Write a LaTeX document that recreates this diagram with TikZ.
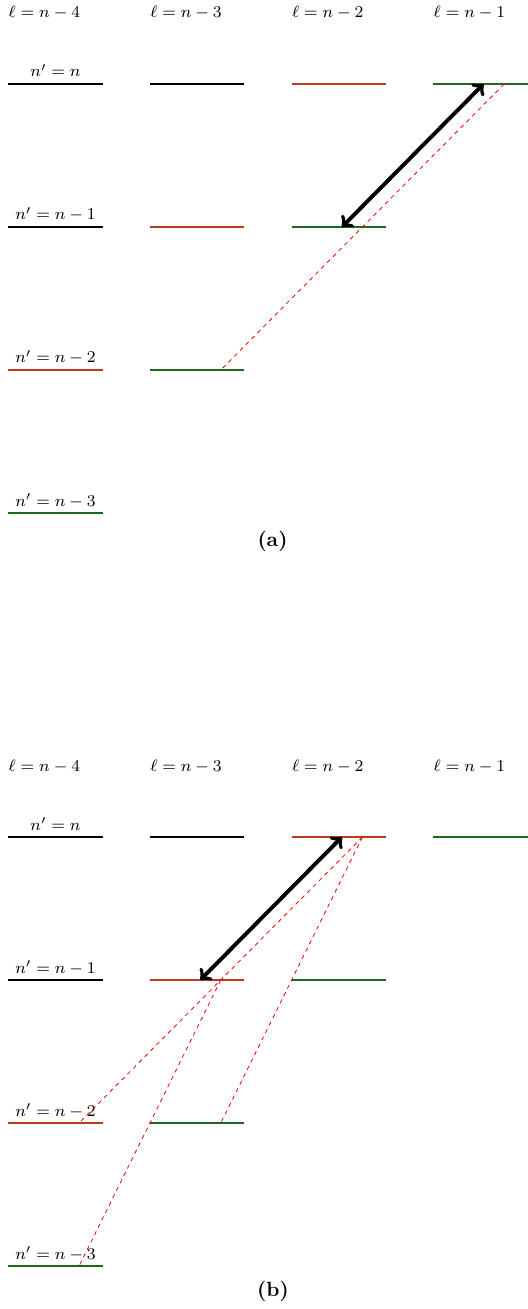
\documentclass[tikz,border=0pt]{standalone}
\usepackage{tikz}
\definecolor{lvred}{RGB}{190,58,30}
\definecolor{lvgreen}{RGB}{30,105,30}
\tikzset{
  lvl/.style={line width=0.85pt},
  trans/.style={red, line width=0.4pt, dash pattern=on 2pt off 2pt},
  dip/.style={<->, line width=1.9pt, black},
  lab/.style={inner sep=0pt}
}
\begin{document}
\begin{tikzpicture}[x=0.485pt,y=-0.485pt,font=\footnotesize]
\useasboundingbox (0,0) rectangle (528,1309);
\foreach \p/\dy in {a/0,b/753}{
  \foreach \r in {1,...,4}{
    \foreach \c in {1,...,4}{
      \pgfmathtruncatemacro\s{\r+\c}
      \ifnum\s<6
        \pgfmathsetmacro\xl{8.3+141.67*(\c-1)}
        \pgfmathsetmacro\yy{84+143*(\r-1)+\dy}
        \coordinate (\p\r\c L) at (\xl,\yy);
        \coordinate (\p\r\c R) at (\xl+94.4,\yy);
        \coordinate (\p\r\c C) at (\xl+47.2,\yy);
        \coordinate (\p\r\c Q) at (\xl+70.8,\yy);
        \ifnum\s=5 \def\lc{lvgreen}\else\ifnum\s=4 \def\lc{lvred}\else\def\lc{black}\fi\fi
        \draw[lvl,\lc] (\p\r\c L) -- (\p\r\c R);
      \fi
    }
  }
  % column labels
  \foreach \c/\t in {1/4,2/3,3/2,4/1}{
    \pgfmathsetmacro\xl{8.3+141.67*(\c-1)}
    \node[lab,anchor=base west] (\p l\c) at (\xl,18+\dy) {$\ell = n-\t$};
  }
  % row labels
  \node[lab,anchor=base] (\p n1) at (55.5,77+\dy) {$n' = n$};
  \node[lab,anchor=base] (\p n2) at (55.5,220+\dy) {$n' = n-1$};
  \node[lab,anchor=base] (\p n3) at (55.5,363+\dy) {$n' = n-2$};
  \node[lab,anchor=base] (\p n4) at (55.5,506+\dy) {$n' = n-3$};
}
% panel (a)
\draw[trans] (a14Q) -- (a32Q);
\draw[dip] ([xshift=1.5pt]a23C) -- ([xshift=1.5pt]a14C);
\node[lab,anchor=base] (capa) at (272.5,546.5) {\normalsize\bfseries (a)};
% panel (b)
\draw[trans] (b13Q) -- (b31Q);
\draw[trans] (b22Q) -- (b41Q);
\draw[trans] (b13Q) -- (b32Q);
\draw[dip] ([xshift=1.5pt]b22C) -- ([xshift=1.5pt]b13C);
\node[lab,anchor=base] (capb) at (273,1296.5) {\normalsize\bfseries (b)};
\end{tikzpicture}
\end{document}
